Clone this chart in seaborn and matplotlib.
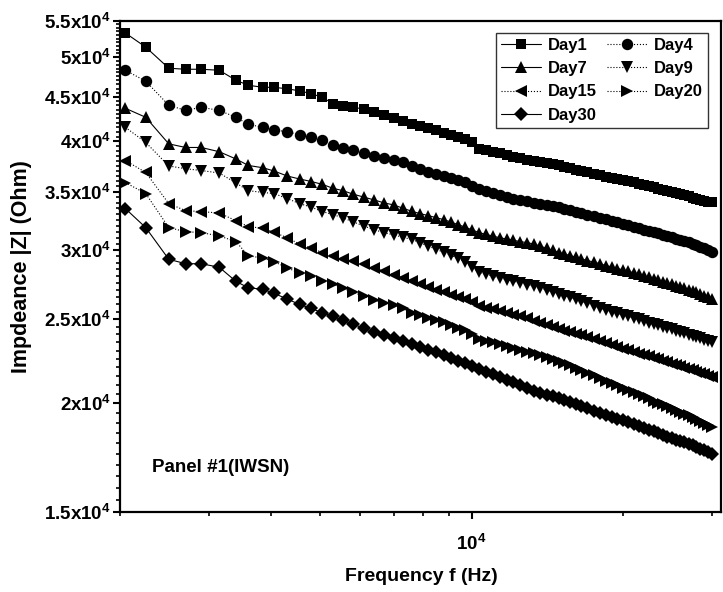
import matplotlib
matplotlib.use("Agg")
import matplotlib.pyplot as plt
from matplotlib.lines import Line2D
from matplotlib.ticker import FixedLocator, FixedFormatter, NullFormatter
import numpy as np
import pandas as pd
import seaborn as sns

# ---- data (frequency in Hz, impedance in kOhm) ----
freq = [2050, 2250, 2500, 2700, 2900, 3150, 3400, 3600, 3850, 4050,
        4300, 4550, 4800, 5050, 5300, 5550, 5800, 6100, 6400, 6700,
        7000, 7300, 7600, 7900, 8200, 8500, 8800, 9100, 9400, 9700,
        10000, 10350, 10700, 11050, 11400, 11750, 12100, 12500, 12900, 13300,
        13700, 14100, 14500, 14900, 15300, 15700, 16100, 16500, 17000, 17500,
        18000, 18500, 19000, 19500, 20000, 20500, 21000, 21500, 22000, 22500,
        23000, 23500, 24000, 24500, 25000, 25500, 26000, 26500, 27000, 27500,
        28000, 28500, 29000, 29500, 30000]

day1 = [53.28, 51.33, 48.54, 48.41, 48.41, 48.28, 47.02, 46.40, 46.15, 46.15,
        45.97, 45.72, 45.38, 44.95, 44.19, 43.95, 43.77, 43.59, 43.26, 42.92,
        42.52, 42.18, 41.90, 41.68, 41.45, 41.17, 40.92, 40.70, 40.48, 40.21,
        39.89, 39.20, 39.05, 38.90, 38.74, 38.59, 38.43, 38.28, 38.12, 38.00,
        37.88, 37.77, 37.65, 37.55, 37.41, 37.27, 37.13, 37.00, 36.84, 36.70,
        36.55, 36.43, 36.33, 36.23, 36.12, 36.01, 35.89, 35.77, 35.66, 35.54,
        35.43, 35.31, 35.20, 35.09, 34.99, 34.88, 34.78, 34.68, 34.58, 34.47,
        34.38, 34.29, 34.20, 34.11, 34.03]
day4 = [48.28, 46.90, 44.01, 43.42, 43.77, 43.42, 42.63, 41.84, 41.51, 41.23,
        41.03, 40.72, 40.45, 40.10, 39.58, 39.31, 39.05, 38.74, 38.51, 38.29,
        38.08, 37.83, 37.47, 37.18, 36.89, 36.65, 36.47, 36.30, 36.14, 35.97,
        35.59, 35.25, 35.06, 34.89, 34.73, 34.52, 34.35, 34.26, 34.12, 34.00,
        33.91, 33.80, 33.69, 33.59, 33.46, 33.33, 33.22, 33.10, 32.96, 32.82,
        32.68, 32.54, 32.41, 32.29, 32.17, 32.05, 31.93, 31.81, 31.68, 31.57,
        31.47, 31.36, 31.25, 31.15, 31.03, 30.92, 30.82, 30.71, 30.62, 30.52,
        30.39, 30.26, 30.14, 30.01, 29.88]
day7 = [43.66, 42.63, 39.74, 39.36, 39.36, 38.92, 38.18, 37.53, 37.30, 36.98,
        36.50, 36.21, 35.97, 35.70, 35.33, 35.11, 34.80, 34.52, 34.26, 33.99,
        33.81, 33.52, 33.25, 33.04, 32.87, 32.69, 32.52, 32.31, 32.09, 31.89,
        31.66, 31.42, 31.27, 31.12, 30.99, 30.89, 30.79, 30.68, 30.60, 30.48,
        30.31, 30.14, 29.97, 29.81, 29.69, 29.57, 29.44, 29.32, 29.18, 29.06,
        28.93, 28.80, 28.69, 28.57, 28.47, 28.36, 28.25, 28.13, 28.02, 27.91,
        27.80, 27.70, 27.60, 27.50, 27.40, 27.31, 27.20, 27.11, 27.02, 26.93,
        26.82, 26.71, 26.60, 26.49, 26.38]
day9 = [41.51, 39.89, 37.48, 37.21, 37.03, 36.79, 35.83, 35.11, 34.94, 34.84,
        34.38, 33.93, 33.61, 33.22, 32.96, 32.67, 32.35, 31.98, 31.66, 31.42,
        31.23, 31.04, 30.86, 30.60, 30.31, 30.07, 29.83, 29.59, 29.36, 29.09,
        28.70, 28.29, 28.14, 27.99, 27.87, 27.75, 27.63, 27.52, 27.39, 27.28,
        27.14, 27.00, 26.87, 26.74, 26.60, 26.47, 26.33, 26.19, 26.06, 25.90,
        25.74, 25.61, 25.49, 25.39, 25.28, 25.18, 25.07, 24.97, 24.87, 24.77,
        24.68, 24.58, 24.49, 24.40, 24.32, 24.23, 24.15, 24.06, 23.99, 23.90,
        23.83, 23.75, 23.68, 23.60, 23.53]
day15 = [38.02, 36.84, 33.93, 33.30, 33.22, 33.09, 32.43, 31.92, 31.79, 31.44,
         31.00, 30.48, 30.15, 29.81, 29.51, 29.29, 29.11, 28.91, 28.63, 28.36,
         28.10, 27.89, 27.61, 27.41, 27.22, 27.02, 26.84, 26.67, 26.50, 26.33,
         26.13, 25.90, 25.76, 25.64, 25.52, 25.42, 25.30, 25.18, 25.05, 24.85,
         24.72, 24.61, 24.48, 24.37, 24.25, 24.15, 24.04, 23.94, 23.81, 23.69,
         23.58, 23.46, 23.34, 23.22, 23.11, 23.01, 22.91, 22.81, 22.73, 22.64,
         22.55, 22.47, 22.38, 22.30, 22.22, 22.14, 22.06, 21.98, 21.91, 21.84,
         21.75, 21.68, 21.60, 21.52, 21.44]
day20 = [35.87, 34.84, 31.84, 31.50, 31.42, 31.15, 30.68, 29.55, 29.37, 29.09,
         28.63, 28.22, 27.99, 27.65, 27.41, 27.11, 26.86, 26.55, 26.29, 26.09,
         25.95, 25.71, 25.39, 25.24, 25.10, 24.94, 24.78, 24.61, 24.44, 24.26,
         24.03, 23.72, 23.57, 23.50, 23.39, 23.27, 23.16, 23.04, 22.93, 22.83,
         22.71, 22.59, 22.48, 22.38, 22.26, 22.12, 21.98, 21.85, 21.70, 21.53,
         21.37, 21.23, 21.11, 20.97, 20.85, 20.72, 20.61, 20.49, 20.38, 20.26,
         20.15, 20.04, 19.94, 19.84, 19.74, 19.64, 19.55, 19.46, 19.37, 19.28,
         19.18, 19.07, 18.98, 18.88, 18.79]
day30 = [33.48, 31.84, 29.28, 28.94, 28.94, 28.67, 27.62, 27.15, 27.05, 26.75,
         26.36, 25.98, 25.71, 25.41, 25.18, 24.91, 24.68, 24.40, 24.16, 23.96,
         23.78, 23.56, 23.37, 23.22, 23.06, 22.91, 22.71, 22.55, 22.39, 22.24,
         22.10, 21.91, 21.73, 21.59, 21.43, 21.28, 21.14, 20.97, 20.82, 20.67,
         20.54, 20.46, 20.38, 20.29, 20.19, 20.08, 19.97, 19.86, 19.74, 19.61,
         19.48, 19.39, 19.30, 19.21, 19.13, 19.04, 18.95, 18.85, 18.76, 18.66,
         18.57, 18.49, 18.40, 18.32, 18.25, 18.17, 18.10, 18.04, 17.97, 17.91,
         17.82, 17.74, 17.66, 17.58, 17.50]

days = ["Day1", "Day4", "Day7", "Day9", "Day15", "Day20", "Day30"]
series = [day1, day4, day7, day9, day15, day20, day30]

y_ticks = [15000, 20000, 25000, 30000, 35000, 40000, 45000, 50000, 55000]
y_tick_labels = ["1.5x10$^{4}$", "2x10$^{4}$", "2.5x10$^{4}$", "3x10$^{4}$",
                 "3.5x10$^{4}$", "4x10$^{4}$", "4.5x10$^{4}$", "5x10$^{4}$",
                 "5.5x10$^{4}$"]
x_ticks = [10000]
x_tick_labels = ["10$^{4}$"]

# ---- styling ----
sns.set_theme(style="ticks")
plt.rcParams["font.family"] = ["Liberation Sans", "DejaVu Sans"]
plt.rcParams["font.weight"] = "bold"
plt.rcParams["text.color"] = "black"
plt.rcParams["axes.labelcolor"] = "black"
plt.rcParams["xtick.color"] = "black"
plt.rcParams["ytick.color"] = "black"
plt.rcParams["axes.edgecolor"] = "black"
plt.rcParams["mathtext.fontset"] = "custom"
plt.rcParams["mathtext.rm"] = "Liberation Sans:bold"
plt.rcParams["mathtext.bf"] = "Liberation Sans:bold"
plt.rcParams["mathtext.it"] = "Liberation Sans:bold"
plt.rcParams["mathtext.default"] = "bf"

markers = {"Day1": "s", "Day4": "o", "Day7": "^", "Day9": "v",
           "Day15": "<", "Day20": ">", "Day30": "D"}
dashes = {"Day1": "", "Day4": (1, 2), "Day7": "", "Day9": (1, 2),
          "Day15": (1, 2), "Day20": (1, 2), "Day30": ""}
msize = {"Day1": 7.6, "Day4": 8.2, "Day7": 8.4, "Day9": 8.4,
         "Day15": 8.4, "Day20": 8.4, "Day30": 6.8}

rows = []
for d, vals in zip(days, series):
    for f, v in zip(freq, vals):
        rows.append({"freq": f, "Z": v * 1000.0, "day": d})
df = pd.DataFrame(rows)

fig = plt.figure(figsize=(7.23, 5.92), dpi=100)
ax = fig.add_axes([0.166, 0.135, 0.831, 0.8295])

for d in days:
    sub = df[df["day"] == d]
    sns.lineplot(data=sub, x="freq", y="Z", ax=ax, color="black",
                 marker=markers[d], markersize=msize[d], markeredgewidth=0,
                 linewidth=0.8, dashes=False, legend=False, clip_on=False,
                 linestyle="-" if dashes[d] == "" else ":", sort=False)

ax.set_xscale("log")
ax.set_yscale("log")
ax.set_xlim(2000, 31300)
ax.set_ylim(15000, 55000)

ax.yaxis.set_major_locator(FixedLocator(y_ticks))
ax.yaxis.set_major_formatter(FixedFormatter(y_tick_labels))
y_minor = [v for v in range(15000, 55001, 500) if v not in y_ticks]
ax.yaxis.set_minor_locator(FixedLocator(y_minor))
ax.yaxis.set_minor_formatter(NullFormatter())

ax.xaxis.set_major_locator(FixedLocator(x_ticks))
ax.xaxis.set_major_formatter(FixedFormatter(x_tick_labels))
x_minor = [2000, 3000, 4000, 5000, 6000, 7000, 8000, 9000, 20000, 30000]
ax.xaxis.set_minor_locator(FixedLocator(x_minor))
ax.xaxis.set_minor_formatter(NullFormatter())

ax.tick_params(axis="both", which="major", direction="out", length=5, width=1.5,
               labelsize=13.5, colors="black")
ax.tick_params(axis="both", which="minor", direction="out", length=3, width=1.2,
               colors="black")
ax.tick_params(axis="y", which="major", pad=1.5)
ax.tick_params(axis="x", which="major", pad=11)

for s in ax.spines.values():
    s.set_linewidth(1.6)
    s.set_color("black")

ax.set_xlabel("Frequency f (Hz)", fontsize=14, fontweight="bold")
ax.set_ylabel("Impdeance |Z| (Ohm)", fontsize=15.5, fontweight="bold")
ax.xaxis.set_label_coords(0.501, -0.113)
ax.yaxis.set_label_coords(-0.146, 0.5)

ax.text(0.053, 0.09, "Panel #1(IWSN)", transform=ax.transAxes,
        fontsize=13.5, fontweight="bold", va="center", ha="left")

order = ["Day1", "Day7", "Day15", "Day30", "Day4", "Day9", "Day20"]
handles = [Line2D([], [], color="black", marker=markers[d], markersize=msize[d],
                  markeredgewidth=0, linewidth=0.8,
                  linestyle="-" if dashes[d] == "" else ":") for d in order]
leg = ax.legend(handles, order, ncol=2, loc="upper right",
                bbox_to_anchor=(0.978, 0.976), frameon=True, fancybox=False,
                edgecolor="black", handlelength=2.4,
                handletextpad=0.4, columnspacing=0.6, labelspacing=0.5,
                borderpad=0.3, borderaxespad=0.0,
                prop={"weight": "bold", "size": 12})
leg.get_frame().set_linewidth(1.0)

fig.savefig("out.png", dpi=100, facecolor="white")
